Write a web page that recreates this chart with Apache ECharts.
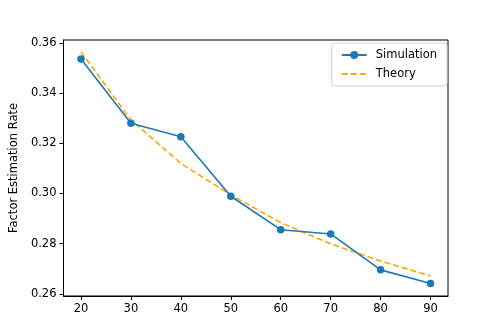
<!DOCTYPE html>
<html>
<head>
<meta charset="utf-8">
<script src="https://cdn.jsdelivr.net/npm/echarts@6/dist/echarts.min.js"></script>
<style>
  html, body { margin: 0; padding: 0; background: #fff; }
  #chart { width: 498px; height: 332px; }
</style>
</head>
<body>
<div id="chart"></div>
<script>
/* ---------- data ---------- */
const nValues = [20, 30, 40, 50, 60, 70, 80, 90];
const simulation = [0.3535, 0.3280, 0.3226, 0.2989, 0.2856, 0.2839, 0.2696, 0.2642];
const theory = [0.3564, 0.3293, 0.3120, 0.2994, 0.2884, 0.2800, 0.2731, 0.2672];
const xTicks = [20, 30, 40, 50, 60, 70, 80, 90];
const yTicks = [0.26, 0.28, 0.30, 0.32, 0.34, 0.36];

const font = 'DejaVu Sans';
const chart = echarts.init(document.getElementById('chart'));

chart.setOption({
  animation: false,
  grid: {
    left: 62, right: 50, top: 40, bottom: 36,
    show: true, borderColor: '#000', borderWidth: 1,
  },
  legend: {
    orient: 'vertical',
    right: 51, top: 43,
    padding: [6, 10, 6, 9],
    itemWidth: 25, itemHeight: 10, itemGap: 7,
    borderColor: '#d0d0d0', borderWidth: 1, borderRadius: 3,
    backgroundColor: 'rgba(255,255,255,0.8)',
    textStyle: { fontFamily: font, fontSize: 11.5, color: '#000', padding: [0, 0, 0, 4] },
    data: [
      { name: 'Simulation' },
      { name: 'Theory', itemStyle: { opacity: 0 } },
    ],
  },
  xAxis: {
    type: 'value',
    min: 16.5, max: 93.5,
    splitLine: { show: false },
    axisLine: { show: true, onZero: false, lineStyle: { color: '#000', width: 1 } },
    axisTick: { show: true, length: 4, customValues: xTicks, lineStyle: { color: '#000' } },
    axisLabel: {
      customValues: xTicks, margin: 7,
      fontFamily: font, fontSize: 11.5, color: '#000',
    },
  },
  yAxis: {
    type: 'value',
    min: 0.2592, max: 0.3611,
    name: 'Factor Estimation Rate',
    nameLocation: 'middle',
    nameGap: 38,
    nameTextStyle: { fontFamily: font, fontSize: 11.5, color: '#000' },
    splitLine: { show: false },
    axisLine: { show: true, onZero: false, lineStyle: { color: '#000', width: 1 } },
    axisTick: { show: true, length: 4, customValues: yTicks, lineStyle: { color: '#000' } },
    axisLabel: {
      customValues: yTicks, margin: 7,
      fontFamily: font, fontSize: 11.5, color: '#000',
      formatter: (v) => v.toFixed(2),
    },
  },
  series: [
    {
      name: 'Simulation',
      type: 'line',
      data: nValues.map((n, i) => [n, simulation[i]]),
      symbol: 'circle',
      symbolSize: 7.5,
      lineStyle: { color: '#1f77b4', width: 1.6 },
      itemStyle: { color: '#1f77b4' },
      z: 3,
    },
    {
      name: 'Theory',
      type: 'line',
      data: nValues.map((n, i) => [n, theory[i]]),
      symbol: 'none',
      lineStyle: { color: '#ffa500', width: 1.6, type: [6, 3] },
      itemStyle: { color: '#ffa500' },
      z: 2,
    },
  ],
});
</script>
</body>
</html>
